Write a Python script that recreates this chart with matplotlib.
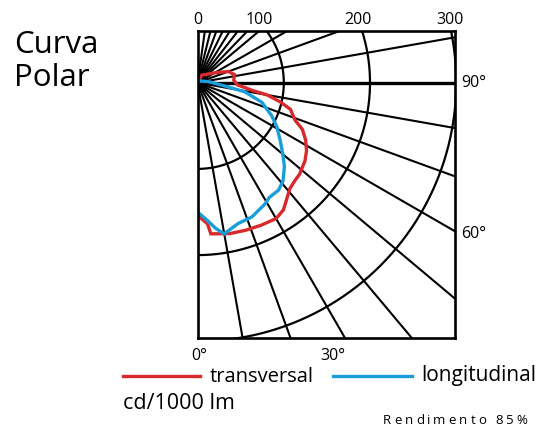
import numpy as np
import matplotlib
matplotlib.use('Agg')
import matplotlib.pyplot as plt
from matplotlib.lines import Line2D

W, H = 539, 425

# photometric data, angle from nadir (deg) and intensity (cd/1000 lm)
trans_ang = [0, 4, 5, 12, 18, 24, 30, 34, 37, 41, 45, 48, 54, 58, 62, 66, 69, 74, 77, 80,
             82, 87, 94, 102, 110, 120, 151, 180]
trans_cd = [154, 164, 176, 179, 180, 181, 182, 178, 171, 163, 160, 159, 154, 149, 142, 133,
            121, 112, 98, 82, 64, 46, 42, 44, 38, 23, 10, 0]
long_ang = [0, 4, 7, 10, 16, 22, 29, 32, 37, 41, 46, 50, 55, 61, 66, 73, 79, 83, 95, 120, 180]
long_cd = [150, 160, 170, 178, 170, 168, 161, 157, 156, 151, 140, 129, 117, 105, 94, 78,
           56, 32, 13, 4, 0]

rings = [100, 200, 300]
ray_angles = list(range(0, 130, 10)) + list(range(130, 178, 6))
top_labels = ['0', '100', '200', '300']
side_labels = ['90°', '60°']
bottom_labels = ['0°', '30°']

RED = '#d8292c'
BLUE = '#1a9ed9'
FONT = 'Open Sans'


def polar_xy(ang, r):
    a = np.radians(np.asarray(ang, dtype=float))
    r = np.asarray(r, dtype=float)
    return r * np.sin(a), -r * np.cos(a)


def px(x, y):
    return x / W, 1 - y / H


fig = plt.figure(figsize=(W / 100, H / 100), dpi=100)
fig.patch.set_facecolor('white')

# axes box in pixels: left 197.6, right 454.5, top 30.7, bottom 338.3
ax = fig.add_axes([197.6 / W, 1 - 338.3 / H, (454.5 - 197.6) / W, (338.3 - 30.7) / H])
ax.set_xlim(0, 298)
ax.set_ylim(-296.5, 60.3)
ax.set_xticks([])
ax.set_yticks([])
for s in ax.spines.values():
    s.set_linewidth(1.9)
    s.set_color('black')

# grid
t = np.linspace(0, 180, 500)
for r in rings:
    x, y = polar_xy(t, np.full_like(t, r))
    ax.plot(x, y, color='black', lw=1.6)
for a in ray_angles:
    x, y = polar_xy([a, a], [0, 600])
    ax.plot(x, y, color='black', lw=2.4 if a == 90 else 1.5)

# curves
x, y = polar_xy(trans_ang, trans_cd)
ax.plot(x, y, color=RED, lw=2.4, solid_joinstyle='miter')
x, y = polar_xy(long_ang, long_cd)
ax.plot(x, y, color=BLUE, lw=2.4, solid_joinstyle='miter')

# title
fig.text(*px(14, 53), 'Curva', family=FONT, fontsize=22.5, va='baseline')
fig.text(*px(14, 86), 'Polar', family=FONT, fontsize=22.5, va='baseline')

# scale labels
for lab, xc in zip(top_labels, [198, 259, 358, 450]):
    fig.text(*px(xc, 24), lab, family=FONT, fontsize=11.5, ha='center', va='baseline')
for lab, yb in zip(side_labels, [87, 238]):
    fig.text(*px(461.5, yb), lab, family=FONT, fontsize=11.5, va='baseline')
for lab, xl in zip(bottom_labels, [191.5, 320]):
    fig.text(*px(xl, 360), lab, family=FONT, fontsize=11.5, va='baseline')

# legend
fig.add_artist(Line2D([122.7 / W, 200 / W], [1 - 375.7 / H] * 2, color=RED, lw=2.4))
fig.text(*px(210, 381.5), 'transversal', family=FONT, fontsize=14.5, va='baseline')
fig.add_artist(Line2D([333 / W, 411.7 / W], [1 - 375.7 / H] * 2, color=BLUE, lw=2.4))
fig.text(*px(421.5, 381.5), 'longitudinal', family=FONT, fontsize=15, va='baseline')
fig.text(*px(122.7, 409), 'cd/1000 lm', family=FONT, fontsize=15.5, va='baseline')

# letter-spaced footnote
renderer = fig.canvas.get_renderer()
xx = 383
for ch in 'Rendimento 85%':
    if ch == ' ':
        xx += 6
        continue
    txt = fig.text(*px(xx, 423.5), ch, family=FONT, fontsize=9.5, va='baseline')
    xx += txt.get_window_extent(renderer).width + 3.0

fig.savefig('out.png', dpi=100)
